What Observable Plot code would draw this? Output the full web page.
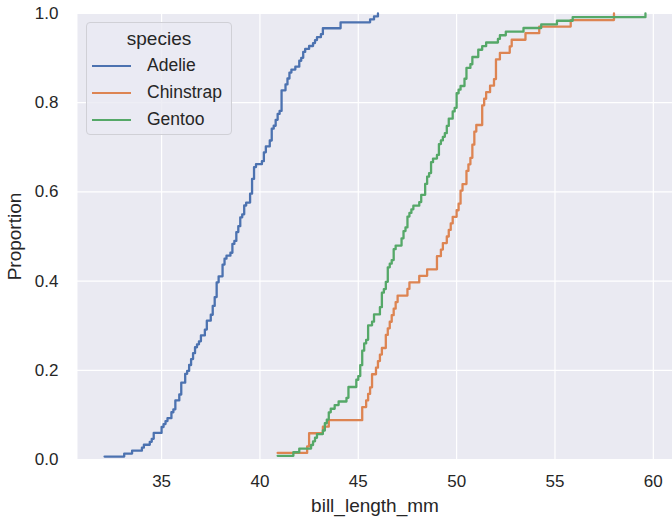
<!DOCTYPE html>
<html>
<head>
<meta charset="utf-8">
<script src="https://cdn.jsdelivr.net/npm/d3@7"></script>
<script src="https://cdn.jsdelivr.net/npm/@observablehq/plot@0.6"></script>
<style>
  html, body { margin: 0; padding: 0; background: #ffffff; }
  #wrap { position: relative; width: 672px; height: 519px; font-family: "Liberation Sans", Arial, sans-serif; }
  #legend {
    position: absolute; left: 86px; top: 22px; width: 146px; height: 113px;
    box-sizing: border-box; border: 1px solid #d0d0d6; border-radius: 4px;
    background: rgba(234,234,242,0.8); color: #262626;
  }
  #legend .title { position: absolute; left: 0; right: 0; top: 5px; text-align: center; font-size: 19px; }
  #legend .item { position: absolute; left: 5px; height: 20px; font-size: 17.5px; }
  #legend .sw { position: absolute; left: 0; top: 10px; width: 39px; height: 2px; }
  #legend .lab { position: absolute; left: 55px; top: 0; white-space: nowrap; }
</style>
</head>
<body>
<div id="wrap"></div>
<script>
const species = ["Adelie", "Chinstrap", "Gentoo"];
const colors = ["#4C72B0", "#DD8452", "#55A868"];

const adelie = [39.1, 39.5, 40.3, 36.7, 39.3, 38.9, 39.2, 34.1, 42.0, 37.8, 37.8, 41.1, 38.6, 34.6, 36.6, 38.7, 42.5, 34.4, 46.0,
  37.8, 37.7, 35.9, 38.2, 38.8, 35.3, 40.6, 40.5, 37.9, 40.5,
  39.5, 37.2, 39.5, 40.9, 36.4, 39.2, 38.8, 42.2, 37.6, 39.8, 36.5, 40.8, 36.0, 44.1, 37.0, 39.6, 41.1, 37.5, 36.0, 42.3,
  39.6, 40.1, 35.0, 42.0, 34.5, 41.4, 39.0, 40.6, 36.5, 37.6, 35.7, 41.3, 37.6, 41.1, 36.4, 41.6, 35.5, 41.1,
  35.9, 41.8, 33.5, 39.7, 39.6, 45.8, 35.5, 42.8, 40.9, 37.2, 36.2, 42.1, 34.6, 42.9, 36.7, 35.1,
  37.3, 41.3, 36.3, 36.9, 38.3, 38.9, 35.7, 41.1, 34.0, 39.6, 36.2, 40.8, 38.1, 40.3, 33.1, 43.2,
  35.0, 41.0, 37.7, 37.8, 37.9, 39.7, 38.6, 38.2, 38.1, 43.2, 38.1, 45.6, 39.7, 42.2, 39.6, 42.7,
  38.6, 37.3, 35.7, 41.1, 36.2, 37.7, 40.2, 41.4, 35.2, 40.6, 38.8, 41.5, 39.0, 44.1, 38.5, 43.1,
  36.8, 37.5, 38.1, 41.1, 35.6, 40.2, 37.0, 39.7, 40.2, 40.6, 32.1, 40.7, 37.3, 39.0, 39.2, 36.6, 36.0, 37.8, 36.0, 41.5];

const chinstrap = [46.5, 50.0, 51.3, 45.4, 52.7, 45.2, 46.1, 51.3, 46.0, 51.3, 46.6, 51.7, 47.0, 52.0, 45.9, 50.5, 50.3, 58.0,
  46.4, 49.2, 42.4, 48.5, 43.2, 50.6, 46.7, 52.0, 50.5, 49.5, 46.4, 52.8, 40.9, 54.2, 42.5, 51.0, 49.7, 47.5, 47.6, 52.0,
  46.9, 53.5, 49.0, 46.2, 50.9, 45.5, 50.9, 50.8, 50.1, 49.0, 51.5, 49.8, 48.1, 51.4, 45.7, 50.7, 42.5, 52.2, 45.2, 49.3,
  50.2, 45.6, 51.9, 46.8, 45.7, 55.8, 43.5, 49.6, 50.8, 50.2];

const gentoo = [46.1, 50.0, 48.7, 50.0, 47.6, 46.5, 45.4, 46.7, 43.3, 46.8, 40.9, 49.0, 45.5, 48.4, 45.8, 49.3, 42.0, 49.2,
  46.2, 48.7, 50.2, 45.1, 46.5, 46.3, 42.9, 46.1, 44.5, 47.8, 48.2, 50.0, 47.3, 42.8, 45.1, 59.6, 49.1, 48.4, 42.6, 44.4,
  44.0, 48.7, 42.7, 49.6, 45.3, 49.6, 50.5, 43.6, 45.5, 50.5, 44.9, 45.2, 46.6, 48.5, 45.1, 50.1, 46.5, 45.0, 43.8, 45.5,
  43.2, 50.4, 45.3, 46.2, 45.7, 54.3, 45.8, 49.8, 46.2, 49.5, 43.5, 50.7, 47.7, 46.4, 48.2, 46.5, 46.4, 48.6, 47.5, 51.1,
  45.2, 45.2, 49.1, 52.5, 47.4, 50.0, 44.9, 50.8, 43.4, 51.3, 47.5, 52.1, 47.5, 52.2, 45.5, 49.5, 44.5, 50.8, 49.4, 46.9,
  48.4, 51.1, 48.5, 55.9, 47.2, 49.1, 47.3, 46.8, 41.7, 53.4, 43.3, 48.1, 50.5, 49.8, 43.5, 51.5, 46.2, 55.1, 44.5, 48.8,
  47.2, 46.8, 50.4, 45.2, 49.9];

const xTicks = [35, 40, 45, 50, 55, 60];
const yTicks = [0, 0.2, 0.4, 0.6, 0.8, 1.0];

// empirical CDF rows (statistical transform of the raw values, like seaborn's ecdfplot)
const groups = [adelie, chinstrap, gentoo];
const rows = [];
groups.forEach((vals, k) => {
  const s = d3.sort(vals);
  s.forEach((v, i) => rows.push({species: species[k], bill_length_mm: v, proportion: (i + 1) / s.length}));
});

const xmin = d3.min(groups.flat()), xmax = d3.max(groups.flat());
const pad = (xmax - xmin) * 0.05;

const chart = Plot.plot({
  width: 672,
  height: 519,
  marginLeft: 77,
  marginRight: 0,
  marginTop: 13,
  marginBottom: 60,
  style: {fontFamily: "'Liberation Sans', Arial, sans-serif", fontSize: "17px", color: "#262626", background: "#ffffff"},
  x: {domain: [xmin - pad, xmax + pad]},
  y: {domain: [0, 1]},
  color: {domain: species, range: colors},
  marks: [
    Plot.frame({fill: "#EAEAF2", stroke: null}),
    Plot.gridX(xTicks, {stroke: "#ffffff", strokeOpacity: 1, strokeWidth: 1.2}),
    Plot.gridY(yTicks, {stroke: "#ffffff", strokeOpacity: 1, strokeWidth: 1.2}),
    Plot.axisX(xTicks, {tickSize: 0, tickPadding: 15, fontSize: 17, label: null}),
    Plot.axisX({label: "bill_length_mm", ticks: [], tickSize: 0, fontSize: 19, labelAnchor: "center", labelArrow: "none", labelOffset: 52}),
    Plot.axisY(yTicks, {tickSize: 0, tickPadding: 19, fontSize: 17, tickFormat: d3.format(".1f"), label: null}),
    Plot.axisY({label: "Proportion", ticks: [], tickSize: 0, fontSize: 19, labelAnchor: "center", labelArrow: "none", labelOffset: 70}),
    Plot.line(rows, {x: "bill_length_mm", y: "proportion", z: "species", stroke: "species", curve: "step-after", strokeWidth: 2.3})
  ]
});

const wrap = document.getElementById("wrap");
wrap.appendChild(chart);

const legend = document.createElement("div");
legend.id = "legend";
let html = '<div class="title">species</div>';
species.forEach((s, i) => {
  html += `<div class="item" style="top:${32 + i * 27}px"><div class="sw" style="background:${colors[i]}"></div><div class="lab">${s}</div></div>`;
});
legend.innerHTML = html;
wrap.appendChild(legend);
</script>
</body>
</html>
